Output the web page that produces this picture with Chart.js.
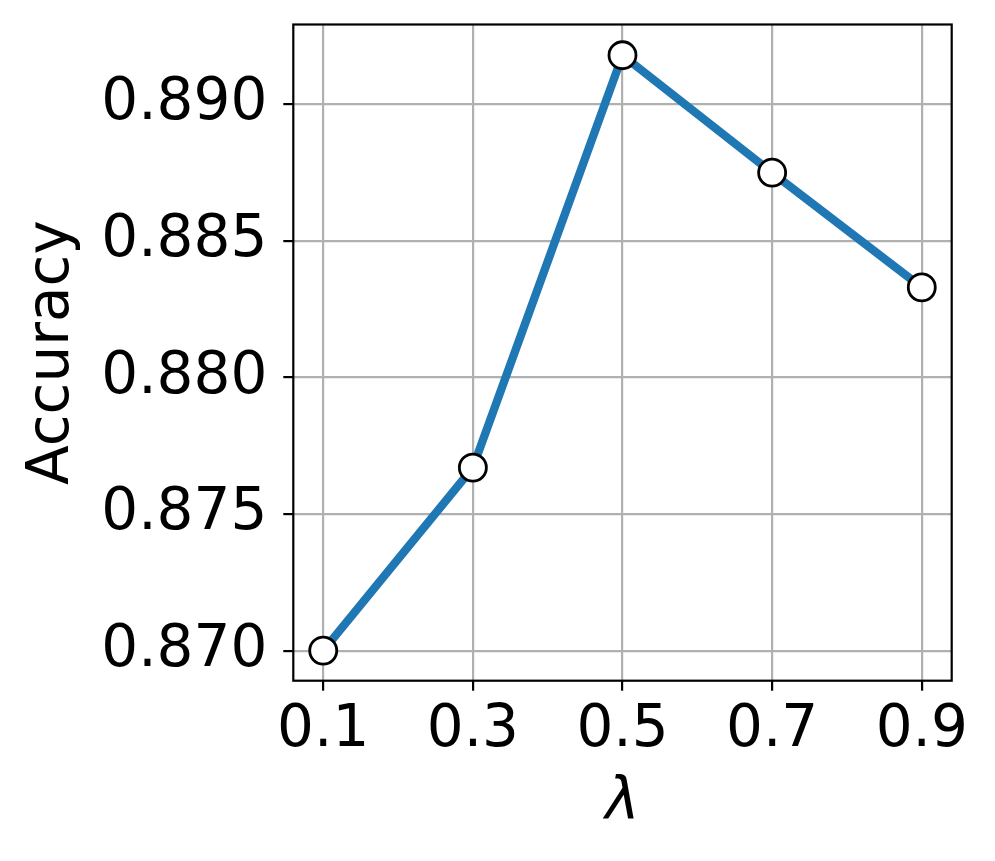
<!DOCTYPE html>
<html>
<head>
<meta charset="utf-8">
<script src="https://cdn.jsdelivr.net/npm/chart.js@4/dist/chart.umd.min.js"></script>
<style>
  html, body { margin: 0; padding: 0; background: #fff; }
  #wrap { width: 995px; height: 861px; }
</style>
</head>
<body>
<div id="wrap"><canvas id="c" width="995" height="861"></canvas></div>
<script>
const lambdas = [0.1, 0.3, 0.5, 0.7, 0.9];
const accuracy = [0.8700, 0.8767, 0.8918, 0.8875, 0.8833];
const xTicks = [0.1, 0.3, 0.5, 0.7, 0.9];
const yTicks = [0.870, 0.875, 0.880, 0.885, 0.890];
const xLabel = 'λ';
const yLabel = 'Accuracy';

const FONT = '"DejaVu Sans", "Liberation Sans", sans-serif';
const FS = 58;

const framePlugin = {
  id: 'frame',
  beforeDraw(chart) {
    const ctx = chart.ctx;
    ctx.save();
    ctx.fillStyle = '#ffffff';
    ctx.fillRect(0, 0, chart.width, chart.height);
    ctx.restore();
  },
  afterDraw(chart) {
    const {left, right, top, bottom} = chart.chartArea;
    const ctx = chart.ctx;
    ctx.save();
    ctx.strokeStyle = '#000000';
    ctx.lineWidth = 2.2;
    ctx.strokeRect(left, top, right - left, bottom - top);
    ctx.restore();
  }
};

new Chart(document.getElementById('c'), {
  type: 'line',
  data: {
    datasets: [{
      data: lambdas.map((x, i) => ({x: x, y: accuracy[i]})),
      borderColor: '#1f77b4',
      borderWidth: 8.3,
      pointRadius: 13.5,
      pointHoverRadius: 13.5,
      pointBackgroundColor: '#ffffff',
      pointBorderColor: '#000000',
      pointBorderWidth: 2.8,
      tension: 0,
      fill: false,
      clip: false
    }]
  },
  options: {
    responsive: false,
    animation: false,
    devicePixelRatio: 1,
    layout: { padding: { left: 0, top: 24.5, right: 43.3, bottom: 0 } },
    plugins: { legend: { display: false }, tooltip: { enabled: false } },
    scales: {
      x: {
        type: 'linear',
        min: 0.06,
        max: 0.94,
        afterBuildTicks(scale) { scale.ticks = xTicks.map(v => ({value: v})); },
        afterFit(scale) {
          scale.height = 861 - 680.7;
          scale.paddingLeft = 0; scale.paddingRight = 0;
        },
        grid: { color: '#b0b0b0', lineWidth: 2.2, tickColor: '#000000', tickWidth: 2.2, tickLength: 10, drawTicks: true },
        border: { display: false },
        ticks: {
          color: '#000000',
          padding: 5,
          maxRotation: 0,
          autoSkip: false,
          font: { family: FONT, size: FS },
          callback: v => v.toFixed(1)
        },
        title: {
          display: true,
          text: xLabel,
          color: '#000000',
          font: { family: FONT, size: FS, style: 'italic' },
          padding: { top: 0, bottom: 22 }
        }
      },
      y: {
        type: 'linear',
        min: 0.8689,
        max: 0.892925,
        afterBuildTicks(scale) { scale.ticks = yTicks.map(v => ({value: v})); },
        afterFit(scale) {
          scale.width = 293.3;
          scale.paddingTop = 0; scale.paddingBottom = 0;
        },
        grid: { color: '#b0b0b0', lineWidth: 2.2, tickColor: '#000000', tickWidth: 2.2, tickLength: 10, drawTicks: true },
        border: { display: false },
        ticks: {
          color: '#000000',
          padding: 16,
          autoSkip: false,
          font: { family: FONT, size: FS },
          callback: v => v.toFixed(3)
        },
        title: {
          display: true,
          text: yLabel,
          color: '#000000',
          font: { family: FONT, size: FS },
          padding: { top: 18, bottom: 0 }
        }
      }
    }
  },
  plugins: [framePlugin]
});
</script>
</body>
</html>
